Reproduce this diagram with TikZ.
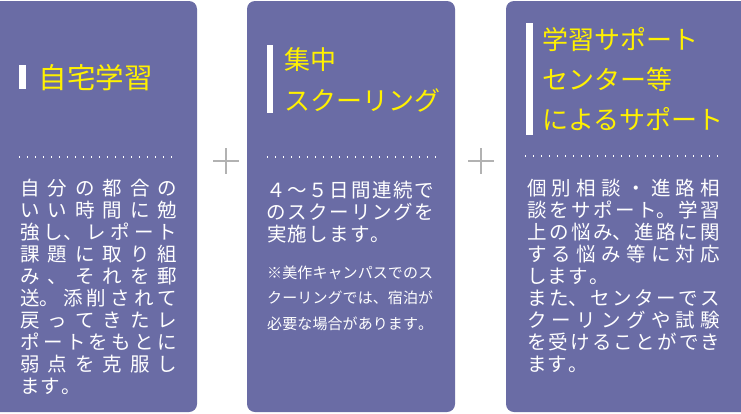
\documentclass[tikz,border=0pt]{standalone}
\usepackage{fontspec}
\setmainfont{Noto Sans CJK JP}
\usepackage{tikz}
\usetikzlibrary{positioning}
\usepackage{xcolor}

\definecolor{panelblue}{RGB}{106,108,165}
\definecolor{titleyellow}{RGB}{255,241,0}
\definecolor{plusgray}{RGB}{178,178,178}

% justified and tracked lines
\def\jspread#1#2\jend{#1\if\relax\detokenize{#2}\relax\else\hfill\jspread#2\jend\fi}
\def\jtrack#1#2\jend{#1\if\relax\detokenize{#2}\relax\else\kern1.2pt\jtrack#2\jend\fi}
\newcommand{\jfull}[2]{\hbox to #1{\expandafter\jspread#2\jend}}
\newcommand{\jlast}[1]{\hbox{\expandafter\jtrack#1\jend}}

\tikzset{
  panel/.style={fill=panelblue, rounded corners=8pt},
  titlebar/.style={fill=white},
  titletext/.style={text=titleyellow, font=\fontsize{26}{26}\selectfont, anchor=base west, inner sep=0pt},
  bodytext/.style={text=white, font=\fontsize{19.5}{19.5}\selectfont, anchor=base west, inner sep=0pt},
  notetext/.style={text=white, font=\fontsize{15}{15}\selectfont, anchor=base west, inner sep=0pt},
  dotline/.style={white, line width=1.3pt, dash pattern=on 1.3pt off 6.7pt},
  plussign/.style={plusgray, line width=2pt}
}

\begin{document}
\begin{tikzpicture}[x=1pt,y=-1pt]
  \useasboundingbox (0,0) rectangle (741,413);
  \clip (0,0) rectangle (741,413);

  % panels
  \fill[panel] (-10,1) rectangle (197,412);
  \fill[panel] (247,1) rectangle (455,412);
  \fill[panel] (506,1) rectangle (751,412);

  % plus signs
  \draw[plussign] (213,161) -- (239,161) (226,148) -- (226,174);
  \draw[plussign] (468,161) -- (494,161) (481,148) -- (481,174);

  % panel 1
  \fill[titlebar] (19,65) rectangle (26,89);
  \node[titletext, font=\fontsize{28.5}{28.5}\selectfont] (t1) at (38.5,88) {自宅学習};
  \draw[dotline] (19,157) -- (178,157);
  \foreach \txt [count=\i from 0] in {自分の都合の,いい時間に勉,強{し、}レポート,課題に取り組,み、それを郵,{送。}添削されて,戻ってきたレ,ポートをもとに,弱点を克服し}
    \node[bodytext] (b1-\i) at (20,195.5+22*\i) {\jfull{157pt}{\txt}};
  \node[bodytext] (b1-9) at (20,393.5) {\jlast{ます。}};

  % panel 2
  \fill[titlebar] (267,45) rectangle (273,113);
  \node[titletext] (t2a) at (284,69) {集中};
  \node[titletext] (t2b) at (284,110) {スクーリング};
  \draw[dotline] (267,157) -- (437,157);
  \foreach \txt [count=\i from 0] in {４～５日間連続で,のスクーリングを}
    \node[bodytext] (b2-\i) at (266,197.5+22*\i) {\jfull{168pt}{\txt}};
  \node[bodytext] (b2-2) at (267,241.5) {\jlast{実施します。}};
  \foreach \txt [count=\i from 0] in {※美作キャンパスでのス,クーリングでは、宿泊が,必要な場合があります。}
    \node[notetext] (n2-\i) at (267,278+25.5*\i) {\jfull{166pt}{\txt}};

  % panel 3
  \fill[titlebar] (526,23) rectangle (533,135);
  \node[titletext] (t3a) at (542,49) {学習サポート};
  \node[titletext] (t3b) at (542,89) {センター等};
  \node[titletext] (t3c) at (542,129) {によるサポート};
  \draw[dotline] (525,156) -- (720,156);
  \foreach \txt [count=\i from 0] in {個別相談・進路相,談をサポー{ト。}学習,上の悩{み、}進路に関,する悩み等に対応}
    \node[bodytext] (b3-\i) at (527,195.5+22*\i) {\jfull{193pt}{\txt}};
  \node[bodytext] (b3-4) at (527,283.5) {\jlast{します。}};
  \foreach \txt [count=\i from 5] in {ま{た、}センターでス,クーリングや試験,を受けることができ}
    \node[bodytext] (b3-\i) at (527,195.5+22*\i) {\jfull{193pt}{\txt}};
  \node[bodytext] (b3-8) at (527,371.5) {\jlast{ます。}};
\end{tikzpicture}
\end{document}
